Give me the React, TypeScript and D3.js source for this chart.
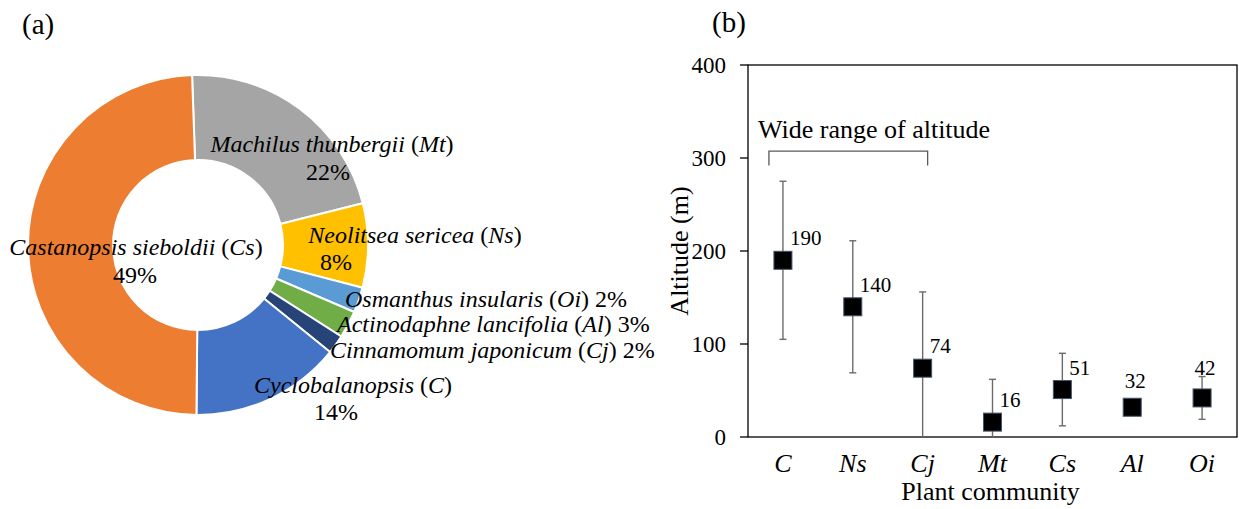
import React from "react";
import * as d3 from "d3";

// ---------- Data: panel (a) donut ----------
const speciesNames = [
  "Machilus thunbergii",
  "Neolitsea sericea",
  "Osmanthus insularis",
  "Actinodaphne lancifolia",
  "Cinnamomum japonicum",
  "Cyclobalanopsis",
  "Castanopsis sieboldii",
];
const speciesCodes = ["Mt", "Ns", "Oi", "Al", "Cj", "C", "Cs"];
const speciesShare = [21.6, 8.0, 2.4, 2.6, 1.8, 14.3, 49.3];
const sliceColors = ["#A5A5A5", "#FFC000", "#5B9BD5", "#70AD47", "#264478", "#4472C4", "#ED7D31"];

// ---------- Data: panel (b) altitude ----------
const categories = ["C", "Ns", "Cj", "Mt", "Cs", "Al", "Oi"];
const altitudeMean = [190, 140, 74, 16, 51, 32, 42];
const altitudeSD = [85, 71, 82, 46, 39, 6, 23];
const labelPlacement = ["right", "right", "right", "right", "right", "above", "above"];
const yTicks = [0, 100, 200, 300, 400];

// label layout for donut (offsets from arc centroid; style only)
const donutLabelLayout: Record<string, { twoLine: boolean; l1: [number, number]; l2?: [number, number] }> = {
  Mt: { twoLine: true, l1: [57.5, 9], l2: [53.5, 37] },
  Ns: { twoLine: true, l1: [89.5, -2.4], l2: [10.5, 24.6] },
  Oi: { twoLine: false, l1: [26.4, 20.8] },
  Al: { twoLine: false, l1: [26.3, 27.4] },
  Cj: { twoLine: false, l1: [28.6, 38.4] },
  C: { twoLine: true, l1: [100.7, 32.7], l2: [83.7, 59.7] },
  Cs: { twoLine: true, l1: [65.5, 8.4], l2: [64.5, 36.4] },
};

const FONT = "'Liberation Serif', 'Times New Roman', serif";

function SpeciesName({ name, code, pct }: { name: string; code: string; pct?: string }) {
  return (
    <>
      <tspan fontStyle="italic">{name}</tspan>
      <tspan>{" ("}</tspan>
      <tspan fontStyle="italic">{code}</tspan>
      <tspan>{")"}</tspan>
      {pct ? <tspan>{" " + pct}</tspan> : null}
    </>
  );
}

export default function App() {
  const W = 1239;
  const H = 509;

  // ---------- donut ----------
  const cx = 198;
  const cy = 245;
  const rOuter = 170;
  const rInner = 85;
  const startA = (-2 * Math.PI) / 180;
  const pie = d3
    .pie<number>()
    .sort(null)
    .value((d) => d)
    .startAngle(startA)
    .endAngle(startA + 2 * Math.PI);
  const arcs = pie(speciesShare);
  const arcGen = d3.arc<d3.PieArcDatum<number>>().innerRadius(rInner).outerRadius(rOuter);
  const fmt = d3.format(".0f");

  // ---------- scatter ----------
  const plotL = 748;
  const plotR = 1237;
  const plotT = 65;
  const plotB = 437;
  const x = d3.scaleBand<string>().domain(categories).range([plotL, plotR]);
  const xc = (c: string) => (x(c) as number) + x.bandwidth() / 2;
  const y = d3.scaleLinear().domain([0, 400]).range([plotB, plotT]);
  const markerSize = 18;

  return (
    <svg
      width={W}
      height={H}
      style={{ position: "absolute", left: 0, top: 0, background: "#fff" }}
      fontFamily={FONT}
    >
      <defs>
        <clipPath id="plotClip">
          <rect x={plotL} y={plotT} width={plotR - plotL} height={plotB - plotT} />
        </clipPath>
      </defs>

      {/* ---------------- panel (a) ---------------- */}
      <text x={22} y={34} fontSize={29}>(a)</text>
      <g transform={`translate(${cx},${cy})`}>
        {arcs.map((a, i) => (
          <path key={i} d={arcGen(a) as string} fill={sliceColors[i]} stroke="#fff" strokeWidth={2} />
        ))}
      </g>
      <g fontSize={24} fill="#000">
        {arcs.map((a, i) => {
          const code = speciesCodes[i];
          const lay = donutLabelLayout[code];
          const [mx, my] = d3
            .arc<d3.PieArcDatum<number>>()
            .innerRadius(rInner)
            .outerRadius(rOuter)
            .centroid(a);
          const px = cx + mx;
          const py = cy + my;
          const pct = fmt(speciesShare[i]) + "%";
          if (lay.twoLine) {
            return (
              <g key={i}>
                <text x={px + lay.l1[0]} y={py + lay.l1[1]} textAnchor="middle" style={{ whiteSpace: "pre" }}>
                  <SpeciesName name={speciesNames[i]} code={code} />
                </text>
                <text x={px + lay.l2![0]} y={py + lay.l2![1]} textAnchor="middle">
                  {pct}
                </text>
              </g>
            );
          }
          return (
            <text key={i} x={px + lay.l1[0]} y={py + lay.l1[1]} textAnchor="start" style={{ whiteSpace: "pre" }}>
              <SpeciesName name={speciesNames[i]} code={code} pct={pct} />
            </text>
          );
        })}
      </g>

      {/* ---------------- panel (b) ---------------- */}
      <text x={712} y={32} fontSize={29}>(b)</text>

      {/* frame */}
      <rect
        x={plotL}
        y={plotT}
        width={plotR - plotL}
        height={plotB - plotT}
        fill="none"
        stroke="#000"
        strokeWidth={1.3}
      />
      {/* y ticks */}
      {yTicks.map((t) => (
        <g key={t}>
          <line x1={plotL - 8} x2={plotL} y1={y(t)} y2={y(t)} stroke="#000" strokeWidth={1.3} />
          <text x={plotL - 22} y={y(t)} dy="0.34em" textAnchor="end" fontSize={23}>
            {t}
          </text>
        </g>
      ))}
      {/* y axis title */}
      <text
        transform={`translate(688,${(plotT + plotB) / 2}) rotate(-90)`}
        textAnchor="middle"
        fontSize={26}
      >
        Altitude (m)
      </text>
      {/* x category labels */}
      {categories.map((c) => (
        <text key={c} x={xc(c)} y={472} textAnchor="middle" fontSize={26} fontStyle="italic">
          {c}
        </text>
      ))}
      <text x={(plotL + plotR) / 2 - 2} y={500} textAnchor="middle" fontSize={26}>
        Plant community
      </text>

      {/* bracket annotation */}
      <text x={758} y={138} fontSize={26}>Wide range of altitude</text>
      <path
        d={`M${xc("C") - 14},${y(292)} V${y(307.5)} H${xc("Cj") + 5} V${y(292)}`}
        fill="none"
        stroke="#595959"
        strokeWidth={1.3}
      />

      {/* error bars */}
      <g clipPath="url(#plotClip)" stroke="#6b6b6b" strokeWidth={1.4}>
        {categories.map((c, i) => {
          const X = xc(c);
          const hi = y(altitudeMean[i] + altitudeSD[i]);
          const lo = y(altitudeMean[i] - altitudeSD[i]);
          return (
            <g key={c}>
              <line x1={X} x2={X} y1={hi} y2={lo} />
              <line x1={X - 3.5} x2={X + 3.5} y1={hi} y2={hi} />
              <line x1={X - 3.5} x2={X + 3.5} y1={lo} y2={lo} />
            </g>
          );
        })}
      </g>
      {/* markers */}
      {categories.map((c, i) => (
        <rect
          key={c}
          x={xc(c) - markerSize / 2}
          y={y(altitudeMean[i]) - markerSize / 2}
          width={markerSize}
          height={markerSize}
          fill="#000"
          stroke="#44546A"
          strokeWidth={1}
        />
      ))}
      {/* data labels */}
      {categories.map((c, i) => {
        const X = xc(c);
        const Y = y(altitudeMean[i]);
        const right = labelPlacement[i] === "right";
        const aboveOffset = altitudeSD[i] > 15 ? -23 : -19;
        return (
          <text
            key={c}
            x={right ? X + 7 : X + 3}
            y={right ? Y - 15 : Y + aboveOffset}
            textAnchor={right ? "start" : "middle"}
            fontSize={21}
          >
            {altitudeMean[i]}
          </text>
        );
      })}
    </svg>
  );
}
